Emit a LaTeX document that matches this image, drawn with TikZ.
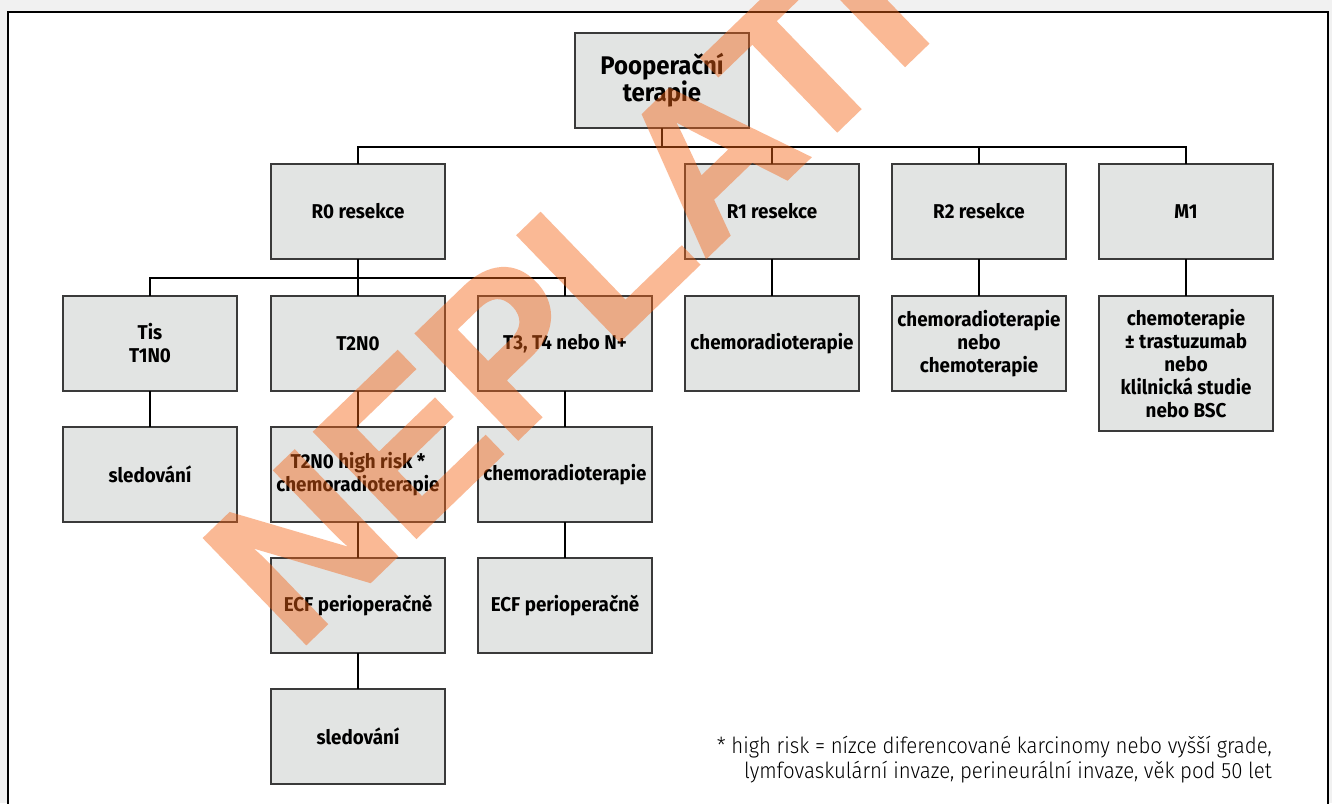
\documentclass[tikz,border=0pt]{standalone}
\usepackage{fontspec}
\setmainfont{Fira Sans}
\newfontfamily\boxfont{Fira Sans}[FakeStretch=0.94]
\newfontfamily\notefont{Fira Sans Light}[FakeStretch=0.92]
\newfontfamily\stampfont{Liberation Sans}[FakeBold=1.6]
\definecolor{boxgray}{HTML}{E2E4E3}
\definecolor{edgegray}{HTML}{3A3A3A}
\definecolor{stamporange}{HTML}{F56416}
\definecolor{outergray}{HTML}{F1F1F1}
\tikzset{
  stepbox/.style={draw=edgegray, fill=boxgray, line width=1.4pt,
    minimum width=174pt, minimum height=95pt, inner sep=2pt, outer sep=0pt,
    align=center, anchor=north west,
    font=\boxfont\bfseries\fontsize{20}{23}\selectfont},
  tallbox/.style={stepbox, minimum height=135pt},
  headbox/.style={stepbox, font=\boxfont\bfseries\fontsize{25.5}{27}\selectfont},
  link/.style={draw=black, line width=1.2pt},
  stamp/.style={text=stamporange,
    font=\stampfont\bfseries\fontsize{212}{212}\selectfont,
    inner sep=0pt, rotate=44, anchor=base west}
}
\begin{document}
\begin{tikzpicture}[x=1pt,y=-1pt]
\useasboundingbox (0,0) rectangle (1332,803);
% page background and frame
\fill[outergray] (0,0) rectangle (1332,803);
\fill[white] (8,12) rectangle (1328,820);
\draw[line width=2.6pt, black] (8,12) rectangle (1328,820);

% bus lines
\coordinate (bus1) at (0,147);
\coordinate (bus2) at (0,278);

% boxes
\node[headbox] (top) at (575,33) {Pooperační\\terapie};

\node[stepbox] (r0) at (271,164) {R0 resekce};
\node[stepbox] (r1) at (685,164) {R1 resekce};
\node[stepbox] (r2) at (892,164) {R2 resekce};
\node[stepbox] (m1) at (1099,164) {M1};

\node[stepbox] (tis) at (63,296) {Tis\\T1N0};
\node[stepbox] (t2) at (271,296) {T2N0};
\node[stepbox] (t3) at (478,296) {T3, T4 nebo N+};
\node[stepbox] (r1c) at (685,296) {chemoradioterapie};
\node[stepbox] (r2c) at (892,296) {chemoradioterapie\\nebo\\chemoterapie};
\node[tallbox] (m1c) at (1099,296) {chemoterapie\\± trastuzumab\\nebo\\klilnická studie\\nebo BSC};

\node[stepbox] (tisf) at (63,427) {sledování};
\node[stepbox] (t2h) at (271,427) {T2N0 high risk *\\chemoradioterapie};
\node[stepbox] (t3c) at (478,427) {chemoradioterapie};

\node[stepbox] (t2e) at (271,558) {ECF perioperačně};
\node[stepbox] (t3e) at (478,558) {ECF perioperačně};

\node[stepbox] (t2f) at (271,689) {sledování};

% connectors
\draw[link] (top.south) -- (top.south |- bus1);
\draw[link] (r0.north) -- (r0.north |- bus1) -- (m1.north |- bus1) -- (m1.north);
\draw[link] (r1.north) -- (r1.north |- bus1);
\draw[link] (r2.north) -- (r2.north |- bus1);

\draw[link] (r0.south) -- (t2.north);
\draw[link] (tis.north) -- (tis.north |- bus2) -- (t3.north |- bus2) -- (t3.north);

\draw[link] (r1.south) -- (r1c.north);
\draw[link] (r2.south) -- (r2c.north);
\draw[link] (m1.south) -- (m1c.north);

\draw[link] (tis.south) -- (tisf.north);
\draw[link] (t2.south) -- (t2h.north);
\draw[link] (t3.south) -- (t3c.north);
\draw[link] (t2h.south) -- (t2e.north);
\draw[link] (t3c.south) -- (t3e.north);
\draw[link] (t2e.south) -- (t2f.north);

% footnote
\node[anchor=north east, align=right, inner sep=0pt,
      font=\notefont\fontsize{22.2}{25}\selectfont] (note) at (1272,736)
  {* high risk = nízce diferencované karcinomy nebo vyšší grade,\\
   lymfovaskulární invaze, perineurální invaze, věk pod 50 let};

% translucent stamp across the chart
\begin{scope}[transparency group, opacity=0.45]
  \node[stamp] (void) at (296,653) {NEPLATÍ};
\end{scope}
\end{tikzpicture}
\end{document}
